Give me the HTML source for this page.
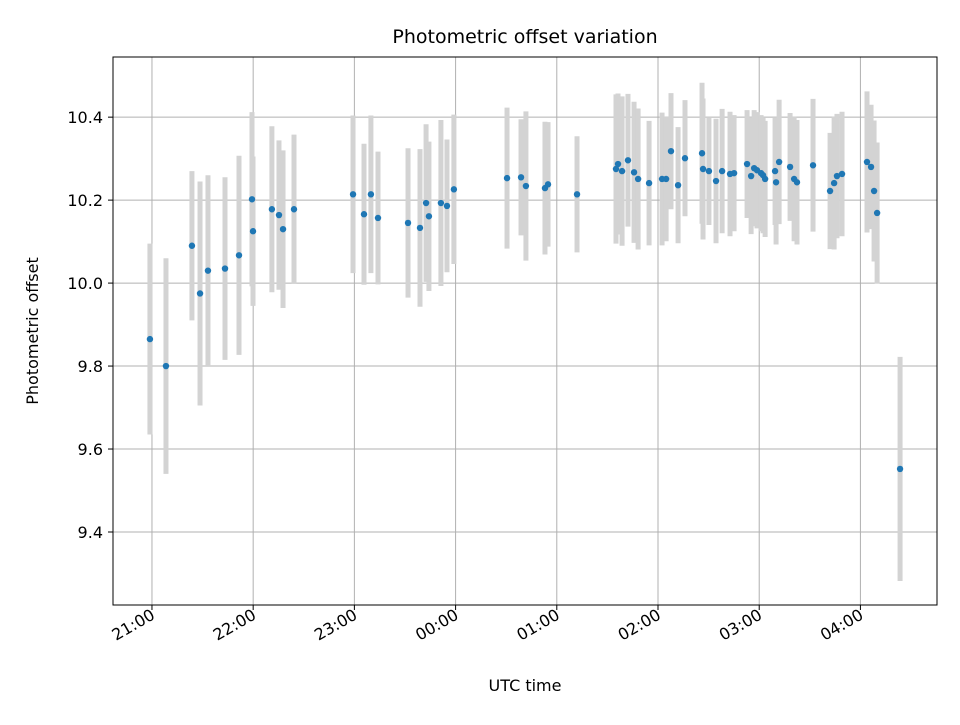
<!DOCTYPE html>
<html><head><meta charset="utf-8"><style>
body{margin:0;background:#fff;}
svg text{font-family:"DejaVu Sans","Liberation Sans",sans-serif;fill:#000;}
</style></head><body>
<svg id="chart" width="960" height="720" viewBox="0 0 960 720" xmlns="http://www.w3.org/2000/svg">
<rect width="960" height="720" fill="#fff"/>
<g id="grid"></g><g id="bars"></g><g id="pts"></g><g id="axes"></g>
</svg>
<script>
// minutes after 21:00 UTC
const times=[-1.2,8.3,23.7,28.5,33.2,43.3,51.6,59.3,59.9,71.1,75.3,77.7,84.2,119.2,125.7,129.8,134,151.8,158.9,162.5,164.2,171.3,174.9,179,210.5,218.8,221.7,233,234.8,252,275.1,276.3,278.7,282.2,285.8,288.2,294.7,302.4,304.8,307.7,311.9,316,326.1,326.7,330.2,334.4,338,342.7,345.1,352.8,355.2,357,358.7,361.1,362.3,363.5,369.4,370,371.8,378.3,380.7,382.4,391.9,402,404.4,406.1,409.1,423.9,426.3,428.1,429.9,443.5];
const offsets=[9.865,9.80,10.09,9.975,10.03,10.035,10.067,10.202,10.125,10.178,10.164,10.13,10.178,10.214,10.166,10.214,10.157,10.145,10.133,10.193,10.161,10.193,10.186,10.226,10.253,10.255,10.234,10.229,10.238,10.214,10.275,10.287,10.270,10.296,10.267,10.251,10.241,10.251,10.251,10.318,10.236,10.301,10.313,10.275,10.270,10.246,10.270,10.263,10.265,10.287,10.258,10.277,10.272,10.265,10.260,10.251,10.270,10.243,10.292,10.280,10.251,10.243,10.284,10.222,10.241,10.258,10.263,10.292,10.280,10.222,10.169,9.552];
const errors=[0.23,0.26,0.18,0.27,0.23,0.22,0.24,0.21,0.18,0.2,0.18,0.19,0.18,0.19,0.17,0.19,0.16,0.18,0.19,0.19,0.18,0.2,0.16,0.18,0.17,0.14,0.18,0.16,0.15,0.14,0.18,0.17,0.18,0.16,0.17,0.17,0.15,0.16,0.15,0.14,0.14,0.14,0.17,0.17,0.13,0.15,0.15,0.15,0.14,0.13,0.14,0.14,0.14,0.14,0.14,0.14,0.13,0.15,0.15,0.13,0.15,0.15,0.16,0.14,0.16,0.15,0.15,0.17,0.15,0.17,0.17,0.27];
const xTickMin=[0,60,120,180,240,300,360,420];
const xTickLabels=["21:00","22:00","23:00","00:00","01:00","02:00","03:00","04:00"];
const yTicks=[9.4,9.6,9.8,10.0,10.2,10.4];

const L=113,R=937,T=57,B=605;
const xMin=-23.1,xMax=465.4,yMin=9.224,yMax=10.545;
const X=t=>L+(t-xMin)/(xMax-xMin)*(R-L);
const Y=v=>B-(v-yMin)/(yMax-yMin)*(B-T);
const NS="http://www.w3.org/2000/svg";
function mk(tag,attrs,parent,text){const e=document.createElementNS(NS,tag);for(const k in attrs)e.setAttribute(k,attrs[k]);if(text!==undefined)e.textContent=text;parent.appendChild(e);return e;}
const grid=document.getElementById('grid'),bars=document.getElementById('bars'),pts=document.getElementById('pts'),axes=document.getElementById('axes');

xTickMin.forEach((m,i)=>{const x=X(m);
 const g=mk('line',{x1:x,x2:x,y1:T,y2:B,stroke:'#b0b0b0','stroke-width':1},grid);
 
 
 mk('line',{x1:x,x2:x,y1:B,y2:B+5,stroke:'#000','stroke-width':1},axes);
 const t=mk('text',{x:x+4,y:B+13,'font-size':16,'text-anchor':'end',transform:`rotate(-30 ${x+4} ${B+13})`},axes,xTickLabels[i]);
 
 
});
yTicks.forEach(v=>{const y=Y(v);
 const g=mk('line',{x1:L,x2:R,y1:y,y2:y,stroke:'#b0b0b0','stroke-width':1},grid);
 
 
 mk('line',{x1:L-5,x2:L,y1:y,y2:y,stroke:'#000','stroke-width':1},axes);
 const t=mk('text',{x:L-10,y:y+6,'font-size':16,'text-anchor':'end'},axes,v.toFixed(1));
 
 
});
times.forEach((m,i)=>{const x=X(m);
 const b=mk('line',{x1:x,x2:x,y1:Y(offsets[i]+errors[i]),y2:Y(offsets[i]-errors[i]),stroke:'#d3d3d3','stroke-width':5},bars);
 
 
 const c=mk('circle',{cx:x,cy:Y(offsets[i]),r:3.2,fill:'#1f77b4'},pts);
 
 
});
const fr=mk('rect',{x:L,y:T,width:R-L,height:B-T,fill:'none',stroke:'#000','stroke-width':1},axes);


const ti=mk('text',{x:(L+R)/2,y:43,'font-size':19,'text-anchor':'middle'},axes,'Photometric offset variation');


const xl=mk('text',{x:(L+R)/2,y:691,'font-size':16,'text-anchor':'middle'},axes,'UTC time');


const yl=mk('text',{x:38,y:331,'font-size':16,'text-anchor':'middle',transform:'rotate(-90 38 331)'},axes,'Photometric offset');


</script>
</body></html>
